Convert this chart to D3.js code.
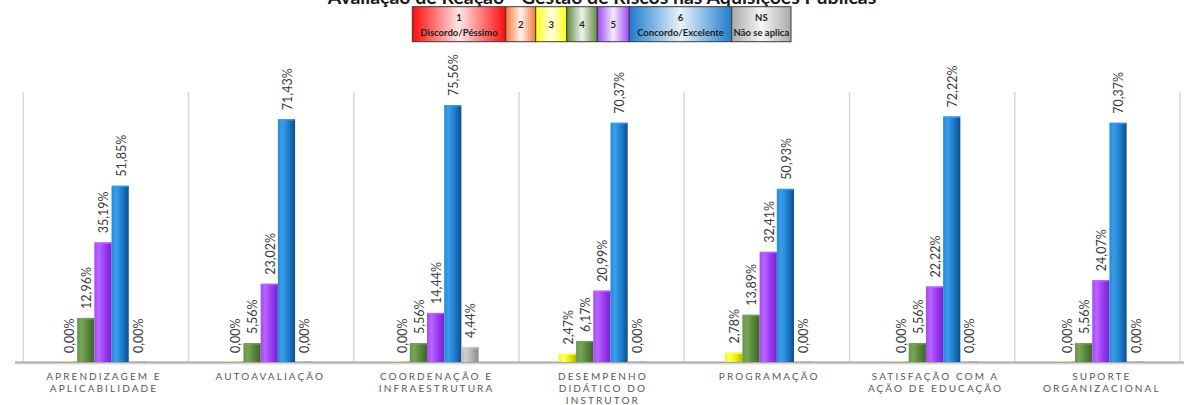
<!DOCTYPE html>
<html>
<head>
<meta charset="utf-8">
<script src="https://cdn.jsdelivr.net/npm/d3@7"></script>
<style>
  html, body { margin: 0; padding: 0; background: #fff; }
  svg { display: block; font-family: Lato, "Open Sans", "Liberation Sans", sans-serif; }
</style>
</head>
<body>
<svg id="chart" width="1184" height="405"></svg>
<script>
// ---- Data ---------------------------------------------------------------
const title = "Avaliação de Reação - Gestão de Riscos nas Aquisições Públicas";

const categories = [
  "APRENDIZAGEM E APLICABILIDADE",
  "AUTOAVALIAÇÃO",
  "COORDENAÇÃO E INFRAESTRUTURA",
  "DESEMPENHO DIDÁTICO DO INSTRUTOR",
  "PROGRAMAÇÃO",
  "SATISFAÇÃO COM A AÇÃO DE EDUCAÇÃO",
  "SUPORTE ORGANIZACIONAL"
];
const categoryLines = [
  ["APRENDIZAGEM E", "APLICABILIDADE"],
  ["AUTOAVALIAÇÃO"],
  ["COORDENAÇÃO E", "INFRAESTRUTURA"],
  ["DESEMPENHO", "DIDÁTICO DO", "INSTRUTOR"],
  ["PROGRAMAÇÃO"],
  ["SATISFAÇÃO COM A", "AÇÃO DE EDUCAÇÃO"],
  ["SUPORTE", "ORGANIZACIONAL"]
];

const seriesKeys = ["3", "4", "5", "6", "NS"];
const values3  = [0.00, 0.00, 0.00, 2.47, 2.78, 0.00, 0.00];
const values4  = [12.96, 5.56, 5.56, 6.17, 13.89, 5.56, 5.56];
const values5  = [35.19, 23.02, 14.44, 20.99, 32.41, 22.22, 24.07];
const values6  = [51.85, 71.43, 75.56, 70.37, 50.93, 72.22, 70.37];
const valuesNS = [0.00, 0.00, 4.44, 0.00, 0.00, 0.00, 0.00];
const seriesValues = [values3, values4, values5, values6, valuesNS];

const legendKeys  = ["1", "2", "3", "4", "5", "6", "NS"];
const legendNotes = ["Discordo/Péssimo", "", "", "", "", "Concordo/Excelente", "Não se aplica"];

const yMax = 80;

// ---- Styles -------------------------------------------------------------
const barShades = {
  "3":  { mid: "#f4f400", light: "#ffff70", base: "#eeee00", dark: "#b5b500" },
  "4":  { mid: "#66944a", light: "#78a55a", base: "#5a883a", dark: "#3c6526" },
  "5":  { mid: "#a547fb", light: "#b866ff", base: "#9c3cf3", dark: "#7522cf" },
  "6":  { mid: "#2489d9", light: "#3c9de9", base: "#1e7fcf", dark: "#0e4d89" },
  "NS": { mid: "#bdbdbd", light: "#cfcfcf", base: "#b2b2b2", dark: "#8a8a8a" }
};
const legendColors = {
  "1": "#ff0a0a", "2": "#f27a3c", "3": "#ffff10", "4": "#5f8a3e",
  "5": "#9d44f2", "6": "#1f7ccd", "NS": "#a9a9a9"
};
const legendWidths = [93.4, 30, 31, 30.6, 32, 102.4, 59.3];

// ---- Setup --------------------------------------------------------------
const svg = d3.select("#chart");
const defs = svg.append("defs");

const baseY = 362;
const y = d3.scaleLinear().domain([0, yMax]).range([baseY, 90]);

// back wall divisions and front row of bars (slight perspective difference)
const xWall = d3.scaleBand().domain(categories).range([23.3, 1180]).paddingInner(0).paddingOuter(0);
const xFront = d3.scaleBand().domain(categories).range([19.8, 1184]).paddingInner(0).paddingOuter(0);
const groupWidth = 86;
const xInner = d3.scaleBand().domain(seriesKeys).range([-groupWidth / 2, groupWidth / 2]).padding(0);

// bar gradients
seriesKeys.forEach((k, i) => {
  const s = barShades[k];
  const g = defs.append("linearGradient").attr("id", "bar-" + i)
    .attr("x1", "0%").attr("x2", "100%").attr("y1", "0%").attr("y2", "0%");
  g.append("stop").attr("offset", "0%").attr("stop-color", s.mid);
  g.append("stop").attr("offset", "25%").attr("stop-color", s.light);
  g.append("stop").attr("offset", "60%").attr("stop-color", s.base);
  g.append("stop").attr("offset", "100%").attr("stop-color", s.dark);
});

// legend gradients
legendKeys.forEach((k, i) => {
  const c = legendColors[k];
  const g = defs.append("linearGradient").attr("id", "leg-" + i)
    .attr("x1", "0%").attr("x2", "100%").attr("y1", "0%").attr("y2", "0%");
  g.append("stop").attr("offset", "0%").attr("stop-color", c);
  g.append("stop").attr("offset", "50%").attr("stop-color", d3.interpolateRgb(c, "#ffffff")(0.9));
  g.append("stop").attr("offset", "100%").attr("stop-color", c);
});

// ---- Title --------------------------------------------------------------
svg.append("text")
  .attr("x", 602).attr("y", 4)
  .attr("text-anchor", "middle")
  .attr("font-size", 19.5).attr("font-weight", "bold").attr("fill", "#1a1a1a")
  .text(title);

// ---- Legend -------------------------------------------------------------
const legX0 = 412.3, legY0 = 6.7, legH = 35;
let cx = legX0;
const legend = svg.append("g");
legendKeys.forEach((k, i) => {
  const w = legendWidths[i];
  const cell = legend.append("g").attr("transform", `translate(${cx},${legY0})`);
  cell.append("rect").attr("width", w).attr("height", legH)
    .attr("fill", `url(#leg-${i})`).attr("stroke", "#3a3a3a").attr("stroke-width", 1);
  const t = cell.append("text").attr("text-anchor", "middle")
    .attr("font-size", 9.5).attr("font-weight", "bold").attr("fill", "#1e1e1e");
  if (legendNotes[i]) {
    t.append("tspan").attr("x", w / 2).attr("y", 14).text(k);
    t.append("tspan").attr("x", w / 2).attr("y", 29).text(legendNotes[i]);
  } else {
    t.append("tspan").attr("x", w / 2).attr("y", 21.5).text(k);
  }
  cx += w;
});

// ---- Wall separators ----------------------------------------------------
const seps = categories.map(c => xWall(c)).concat([xWall.range()[1]]);
svg.append("g").selectAll("line").data(seps).join("line")
  .attr("x1", d => d).attr("x2", d => d)
  .attr("y1", 92).attr("y2", baseY)
  .attr("stroke", "#d9d9d9").attr("stroke-width", 1.5);

// floor line
svg.append("line").attr("x1", 15).attr("x2", 1184).attr("y1", baseY + 0.5).attr("y2", baseY + 0.5)
  .attr("stroke", "#a6a6a6").attr("stroke-width", 2);
svg.append("line").attr("x1", 15).attr("x2", 1184).attr("y1", baseY + 2).attr("y2", baseY + 2)
  .attr("stroke", "#dcdcdc").attr("stroke-width", 1);

// ---- Bars ---------------------------------------------------------------
const fmt = v => v.toFixed(2).replace(".", ",") + "%";
const barData = [];
categories.forEach((c, ci) => {
  seriesKeys.forEach((k, si) => {
    barData.push({ cat: c, key: k, si, value: seriesValues[si][ci] });
  });
});
const bw = xInner.bandwidth();
const groupCenter = c => xFront(c) + xFront.bandwidth() / 2;

const bars = svg.append("g");
bars.selectAll("rect.bar").data(barData).join("rect")
  .attr("class", "bar")
  .attr("x", d => groupCenter(d.cat) + xInner(d.key))
  .attr("width", bw)
  .attr("y", d => Math.min(y(d.value), baseY - 1))
  .attr("height", d => Math.max(baseY - y(d.value), 1))
  .attr("fill", d => `url(#bar-${d.si})`)
  .attr("opacity", d => d.value > 0 ? 1 : 0.45);

// top face highlight
bars.selectAll("rect.cap").data(barData.filter(d => d.value > 0)).join("rect")
  .attr("class", "cap")
  .attr("x", d => groupCenter(d.cat) + xInner(d.key) + 0.5)
  .attr("width", bw - 1)
  .attr("y", d => y(d.value))
  .attr("height", 1.5)
  .attr("fill", d => barShades[d.key].light)
  .attr("opacity", 0.8);

// value labels (rotated)
svg.append("g").selectAll("text").data(barData).join("text")
  .attr("transform", d => {
    const x = groupCenter(d.cat) + xInner(d.key) + bw / 2 + 1;
    const yy = y(d.value) - 9;
    return `translate(${x},${yy}) rotate(-90)`;
  })
  .attr("dy", "0.35em")
  .attr("text-anchor", "start")
  .attr("font-size", 12.5).attr("fill", "#3a3a3a")
  .text(d => fmt(d.value));

// ---- Category labels ----------------------------------------------------
const catG = svg.append("g");
categories.forEach((c, ci) => {
  const t = catG.append("text")
    .attr("text-anchor", "middle")
    .attr("font-size", 10).attr("fill", "#595959")
    .attr("letter-spacing", "2.1px");
  categoryLines[ci].forEach((line, li) => {
    t.append("tspan").attr("x", groupCenter(c) + 1).attr("y", 379.5 + li * 12.3).text(line);
  });
});
</script>
</body>
</html>
